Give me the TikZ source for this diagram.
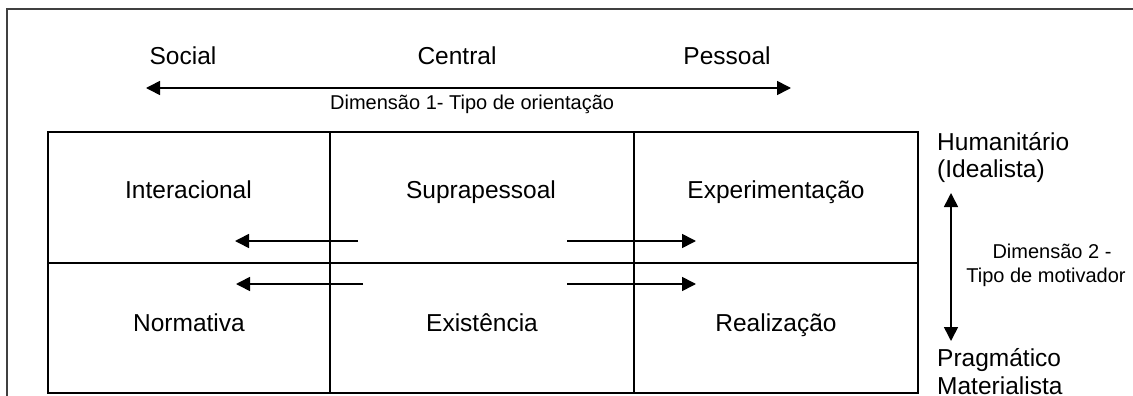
\documentclass[tikz,border=0pt]{standalone}
\usepackage{fontspec}
\setmainfont{Liberation Sans}
\usetikzlibrary{arrows.meta}
\begin{document}
\begin{tikzpicture}[x=1pt,y=-1pt,
  big/.style={inner sep=0pt,font=\fontsize{24.5}{28}\selectfont,anchor=base},
  small/.style={inner sep=0pt,font=\fontsize{20}{23}\selectfont,anchor=base},
  grid/.style={line width=2pt,black},
  frame/.style={line width=1.3pt,black!75},
  arr/.style={line width=1.6pt,-{Triangle[length=14pt,width=14pt]}},
  darr/.style={line width=1.6pt,{Triangle[length=14pt,width=14pt]}-{Triangle[length=14pt,width=14pt]}}]
\useasboundingbox (0,0) rectangle (1133,396);
% outer frame
\draw[frame] (7,400) -- (7,9) -- (1140,9);
% table
\draw[grid] (48,132) rectangle (918,393);
\draw[grid] (48,262.5) -- (918,262.5);
\draw[grid] (330,132) -- (330,393);
\draw[grid] (633.5,132) -- (633.5,393);
% top labels
\node[big] (social) at (183,65) {Social};
\node[big] (central) at (457,65) {Central};
\node[big] (pessoal) at (727,65) {Pessoal};
\coordinate (d1l) at (146,88);
\coordinate (d1r) at (791,88);
\draw[darr] (d1l) -- (d1r);
\node[small,anchor=base west] (dim1) at (330,110) {Dimensão 1- Tipo de orientação};
% cells
\node[big] (inter) at (188.5,198) {Interacional};
\node[big] (supra) at (481,198) {Suprapessoal};
\node[big] (exper) at (776,198) {Experimentação};
\node[big] (norm) at (189,331) {Normativa};
\node[big] (exis) at (482,331) {Existência};
\node[big] (real) at (776,331) {Realização};
% inner arrows
\coordinate (a1s) at (358,241); \coordinate (a1e) at (235,241);
\coordinate (a2s) at (363,284); \coordinate (a2e) at (236,284);
\coordinate (a3s) at (567,241); \coordinate (a3e) at (696,241);
\coordinate (a4s) at (567,284); \coordinate (a4e) at (696,284);
\draw[arr] (a1s) -- (a1e);
\draw[arr] (a2s) -- (a2e);
\draw[arr] (a3s) -- (a3e);
\draw[arr] (a4s) -- (a4e);
% right side
\node[big,anchor=base west] (hum) at (937,150) {Humanitário};
\node[big,anchor=base west] (ideal) at (937,177.5) {(Idealista)};
\coordinate (d2t) at (951,193);
\coordinate (d2b) at (951,341);
\draw[darr] (d2t) -- (d2b);
\node[small] (dim2a) at (1052,258.5) {Dimensão 2 -};
\node[small] (dim2b) at (1046,282.5) {Tipo de motivador};
\node[big,anchor=base west] (prag) at (937,366) {Pragmático};
\node[big,anchor=base west] (mat) at (937,394) {Materialista};
\end{tikzpicture}
\end{document}
